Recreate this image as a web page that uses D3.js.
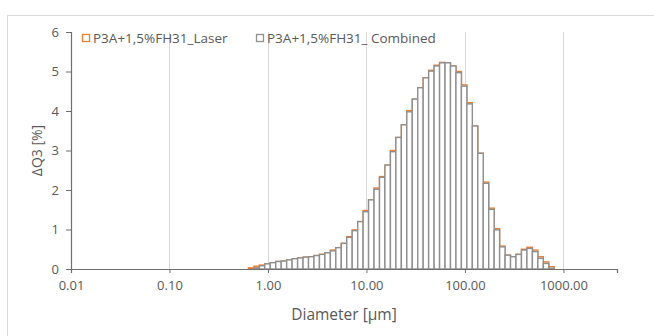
<!DOCTYPE html>
<html>
<head>
<meta charset="utf-8">
<script src="https://cdn.jsdelivr.net/npm/d3@7"></script>
<style>
  body { margin: 0; background: #fff; }
  text { font-family: "Open Sans", "Noto Sans", sans-serif; fill: #595959; }
</style>
</head>
<body>
<script>
// size classes (µm) - class centres of the measured distribution
var sizes = [0.6754, 0.7672, 0.8718, 0.9905, 1.125, 1.279, 1.453, 1.651, 1.876, 2.131,
  2.421, 2.751, 3.126, 3.552, 4.035, 4.585, 5.209, 5.919, 6.725, 7.641,
  8.682, 9.858, 11.20, 12.73, 14.46, 16.43, 18.67, 21.21, 24.10, 27.38,
  31.11, 35.35, 40.16, 45.63, 51.85, 58.91, 66.93, 76.05, 86.40, 98.11,
  111.5, 126.7, 143.9, 163.5, 185.8, 211.1, 239.8, 272.5, 309.6, 351.8,
  399.7, 454.1, 516.0, 586.3, 666.1, 756.9];

// ΔQ3 [%] per class
var laser = [0.03, 0.07, 0.10, 0.13, 0.16, 0.19, 0.20, 0.23, 0.26, 0.28,
  0.30, 0.31, 0.34, 0.37, 0.41, 0.48, 0.54, 0.65, 0.82, 0.99,
  1.20, 1.48, 1.75, 2.05, 2.34, 2.63, 3.00, 3.33, 3.65, 4.01,
  4.30, 4.59, 4.84, 5.03, 5.16, 5.23, 5.22, 5.14, 5.00, 4.66,
  4.21, 3.62, 2.93, 2.20, 1.54, 1.02, 0.58, 0.35, 0.31, 0.37,
  0.50, 0.55, 0.48, 0.31, 0.18, 0.06];
var combined = [0.00, 0.03, 0.08, 0.13, 0.16, 0.19, 0.20, 0.23, 0.26, 0.28,
  0.30, 0.31, 0.34, 0.37, 0.41, 0.46, 0.54, 0.65, 0.80, 0.97,
  1.20, 1.45, 1.75, 2.02, 2.32, 2.63, 2.97, 3.33, 3.65, 3.98,
  4.30, 4.59, 4.84, 5.01, 5.14, 5.22, 5.22, 5.14, 4.97, 4.63,
  4.18, 3.62, 2.93, 2.17, 1.51, 0.99, 0.56, 0.35, 0.31, 0.37,
  0.48, 0.52, 0.44, 0.27, 0.14, 0.02];

var seriesNames = ["P3A+1,5%FH31_Laser", "P3A+1,5%FH31_ Combined"];
var seriesColors = ["#ED7D31", "#8F8F8F"];
var xTicks = [0.01, 0.1, 1, 10, 100, 1000];
var yTicks = [0, 1, 2, 3, 4, 5, 6];

var width = 654, height = 336;
var pLeft = 71, pRight = 617, pTop = 32, pBottom = 269;

// half width of a class on the log axis (ratio between neighbour classes)
var step = Math.sqrt(sizes[1] / sizes[0]);

var x = d3.scaleLog().domain([0.01, 3500]).range([pLeft, pRight]);
var y = d3.scaleLinear().domain([0, 6]).range([pBottom, pTop]);

var svg = d3.select("body").append("svg")
  .attr("width", width)
  .attr("height", height);

svg.append("rect")
  .attr("width", width).attr("height", height)
  .attr("fill", "#fff");

// chart border
svg.append("rect")
  .attr("x", 7.5).attr("y", 15.5)
  .attr("width", 660).attr("height", 340)
  .attr("fill", "none")
  .attr("stroke", "#d9d9d9");

// vertical gridlines
svg.append("g")
  .selectAll("line")
  .data(xTicks.slice(1))
  .enter().append("line")
  .attr("x1", function(d) { return Math.round(x(d)) + 0.5; })
  .attr("x2", function(d) { return Math.round(x(d)) + 0.5; })
  .attr("y1", pTop)
  .attr("y2", pBottom)
  .attr("stroke", "#d9d9d9");

// legend
var legend = svg.append("g").attr("class", "legend");
var legendX = [82, 256];
seriesNames.forEach(function(name, i) {
  legend.append("rect")
    .attr("x", legendX[i] + 0.5).attr("y", 34.5)
    .attr("width", 7).attr("height", 7)
    .attr("fill", "#fff")
    .attr("stroke", seriesColors[i])
    .attr("stroke-width", 1.3);
  legend.append("text")
    .attr("x", legendX[i] + 11)
    .attr("y", 43)
    .style("font-size", "13.5px")
    .text(name);
});

// bars: laser below, combined on top
function drawBars(values, color) {
  svg.append("g")
    .selectAll("rect")
    .data(values)
    .enter().append("rect")
    .attr("x", function(d, i) { return x(sizes[i] / step); })
    .attr("width", function(d, i) { return x(sizes[i] * step) - x(sizes[i] / step); })
    .attr("y", function(d) { return y(d); })
    .attr("height", function(d) { return pBottom - y(d); })
    .attr("fill", "#fff")
    .attr("stroke", color)
    .attr("stroke-width", 1.4);
}
drawBars(laser, seriesColors[0]);
drawBars(combined, seriesColors[1]);

// axes
var xAxis = d3.axisBottom(x)
  .tickValues(xTicks)
  .tickFormat(d3.format(".2f"))
  .tickSize(4)
  .tickPadding(8);
var yAxis = d3.axisLeft(y)
  .tickValues(yTicks)
  .tickFormat(d3.format("d"))
  .tickSize(5)
  .tickPadding(7);

var gx = svg.append("g")
  .attr("transform", "translate(0," + pBottom + ")")
  .call(xAxis);
var gy = svg.append("g")
  .attr("transform", "translate(" + pLeft + ",0)")
  .call(yAxis);

[gx, gy].forEach(function(g) {
  g.select(".domain").attr("stroke", "#6e6e6e").attr("stroke-width", 1.2);
  g.selectAll(".tick line").attr("stroke", "#6e6e6e");
  g.selectAll("text")
    .attr("fill", "#595959")
    .style("font-family", "'Open Sans', sans-serif")
    .style("font-size", "13px");
});

// axis titles
svg.append("text")
  .attr("x", (pLeft + pRight) / 2)
  .attr("y", 320)
  .attr("text-anchor", "middle")
  .style("font-size", "15.5px")
  .text("Diameter [µm]");

svg.append("text")
  .attr("transform", "translate(42," + ((pTop + pBottom) / 2) + ") rotate(-90)")
  .attr("text-anchor", "middle")
  .style("font-size", "14px")
  .text("ΔQ3 [%]");
</script>
</body>
</html>
